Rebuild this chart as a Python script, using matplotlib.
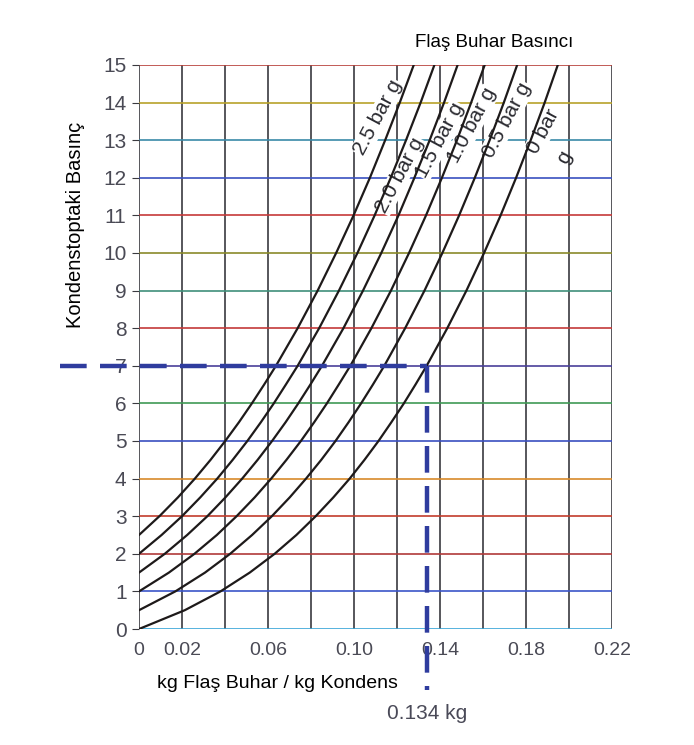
import matplotlib.pyplot as plt

plt.rcParams['font.family'] = ['Liberation Sans', 'DejaVu Sans']

# =============================================================================
# Data
# =============================================================================

# condensate pressure (bar g) on the y axis
pressure_ticks = list(range(0, 16))
x_gridlines = [0, 0.02, 0.04, 0.06, 0.08, 0.10, 0.12, 0.14, 0.16, 0.18, 0.20, 0.22]
x_ticks = [0, 0.02, 0.06, 0.10, 0.14, 0.18, 0.22]
x_ticklabels = ["0", "0.02", "0.06", "0.10", "0.14", "0.18", "0.22"]

# horizontal line colours (scanned print look), from 0 up to 15
hline_colors = ["#3aa6d8", "#3b55c8", "#b03a3a", "#c23c2c", "#d88a2a", "#3a4fc0",
                "#3f9a55", "#4a3f9a", "#c43a3a", "#3f8f7a", "#8a8a2a", "#c63a3a",
                "#3a50c0", "#3a8aa8", "#b8a22a", "#b8403a"]

flash_labels = ["2.5 bar g", "2.0 bar g", "1.5 bar g", "1.0 bar g", "0.5 bar g", "0 bar"]

# half-bar steps up to 7 bar g, whole bars above
p_25 = [2.5, 3, 3.5, 4, 4.5, 5, 5.5, 6, 6.5, 7, 8, 9, 10, 11, 12, 13, 14, 15]
x_25 = [0, 0.0095, 0.0181, 0.0260, 0.0333, 0.0401, 0.0465, 0.0525, 0.0582, 0.0637,
        0.0738, 0.0831, 0.0917, 0.0998, 0.1074, 0.1145, 0.1213, 0.1278]

p_20 = [2, 2.5, 3, 3.5, 4, 4.5, 5, 5.5, 6, 6.5, 7, 8, 9, 10, 11, 12, 13, 14, 15]
x_20 = [0, 0.0105, 0.0200, 0.0285, 0.0364, 0.0436, 0.0504, 0.0567, 0.0627, 0.0683, 0.0738,
        0.0838, 0.0930, 0.1016, 0.1096, 0.1171, 0.1242, 0.1310, 0.1374]

p_15 = [1.5, 2, 2.5, 3, 3.5, 4, 4.5, 5, 5.5, 6, 6.5, 7, 8, 9, 10, 11, 12, 13, 14, 15]
x_15 = [0, 0.0120, 0.0224, 0.0318, 0.0402, 0.0480, 0.0552, 0.0619, 0.0682, 0.0741, 0.0797,
        0.0851, 0.0951, 0.1042, 0.1127, 0.1207, 0.1281, 0.1352, 0.1419, 0.1482]

p_10 = [1, 1.5, 2, 2.5, 3, 3.5, 4, 4.5, 5, 5.5, 6, 6.5, 7, 8, 9, 10, 11, 12, 13, 14, 15]
x_10 = [0, 0.0139, 0.0258, 0.0362, 0.0454, 0.0538, 0.0615, 0.0686, 0.0753, 0.0815, 0.0874,
        0.0929, 0.0983, 0.1081, 0.1172, 0.1256, 0.1335, 0.1409, 0.1479, 0.1545, 0.1608]

p_05 = [0.5, 1, 1.5, 2, 2.5, 3, 3.5, 4, 4.5, 5, 5.5, 6, 6.5, 7, 8, 9, 10, 11, 12, 13, 14, 15]
x_05 = [0, 0.0169, 0.0307, 0.0424, 0.0526, 0.0618, 0.0701, 0.0777, 0.0848, 0.0914, 0.0975,
        0.1033, 0.1088, 0.1141, 0.1238, 0.1328, 0.1411, 0.1489, 0.1562, 0.1631, 0.1697, 0.1759]

p_00 = [0, 0.5, 1, 1.5, 2, 2.5, 3, 3.5, 4, 4.5, 5, 5.5, 6, 6.5, 7, 8, 9, 10, 11, 12, 13, 14, 15]
x_00 = [0, 0.0213, 0.0379, 0.0515, 0.0631, 0.0732, 0.0822, 0.0904, 0.0980, 0.1049, 0.1114,
        0.1174, 0.1232, 0.1286, 0.1338, 0.1434, 0.1523, 0.1605, 0.1682, 0.1754, 0.1822,
        0.1887, 0.1948]

curves_x = [x_25, x_20, x_15, x_10, x_05, x_00]
curves_p = [p_25, p_20, p_15, p_10, p_05, p_00]

# worked example: 7 bar g condensate flashing to 0 bar g
example_p = 7
example_x = 0.134

# =============================================================================
# Plot
# =============================================================================

fig = plt.figure(figsize=(6.94, 7.45), dpi=100)
ax = fig.add_axes([0.2003, 0.1557, 0.6815, 0.7571])
ax.set_xlim(0, 0.22)
ax.set_ylim(0, 15)

for v in x_gridlines:
    ax.axvline(v, color="#3a3a40", lw=1.2, zorder=1)
for p, c in zip(pressure_ticks, hline_colors):
    ax.axhline(p, color=c, lw=1.2, zorder=1)

for xs, ps in zip(curves_x, curves_p):
    ax.plot(xs, ps, color="#1e1a1a", lw=1.6, zorder=5, solid_capstyle="round",
            solid_joinstyle="round")

# curve labels
label_pos = [(0.1112, 13.6), (0.1214, 12.07), (0.140, 13.0), (0.1549, 13.4), (0.1712, 13.54), (0.1879, 13.22)]
for text, (lx, ly) in zip(flash_labels, label_pos):
    ax.text(lx, ly, text, rotation=62, fontsize=15, color="#2a2a30",
            ha="center", va="center", rotation_mode="anchor", zorder=4,
            bbox=dict(facecolor="white", edgecolor="none", pad=0.5))
ax.text(0.1981, 12.55, "g", rotation=62, fontsize=15, color="#2a2a30",
        ha="center", va="center", rotation_mode="anchor", zorder=4)

# dashed example line
dash_col = "#2f3c9e"
ax.plot([-0.0367, example_x], [example_p, example_p], color=dash_col, lw=3.2,
        dashes=(6, 3), clip_on=False, zorder=6)
ax.plot([example_x, example_x], [example_p, -1.62], color=dash_col, lw=3.2,
        dashes=(6, 3), clip_on=False, zorder=6)
ax.text(example_x, -2.25, f"{example_x} kg", fontsize=15, color="#4a4a58",
        ha="center", va="center", clip_on=False)

for s in ax.spines.values():
    s.set_visible(False)

ax.set_yticks(pressure_ticks)
ax.set_yticklabels([str(p) for p in pressure_ticks], fontsize=15, color="#4a4a55")
ax.tick_params(axis="y", length=5, color="#3a3a40", pad=4)
ax.set_xticks(x_ticks)
ax.set_xticklabels(x_ticklabels, fontsize=14, color="#4a4a55")
ax.tick_params(axis="x", length=0, pad=9)

fig.text(0.1081, 0.6979, "Kondenstoptaki Basınç", rotation=90, fontsize=14.5,
         ha="center", va="center", color="black")
fig.text(0.3991, 0.0832, "kg Flaş Buhar / kg Kondens", fontsize=14,
         ha="center", va="center", color="black")
fig.text(0.7125, 0.9436, "Flaş Buhar Basıncı", fontsize=13.5,
         ha="center", va="center", color="black")

fig.savefig("out.png", dpi=100, facecolor="white")
